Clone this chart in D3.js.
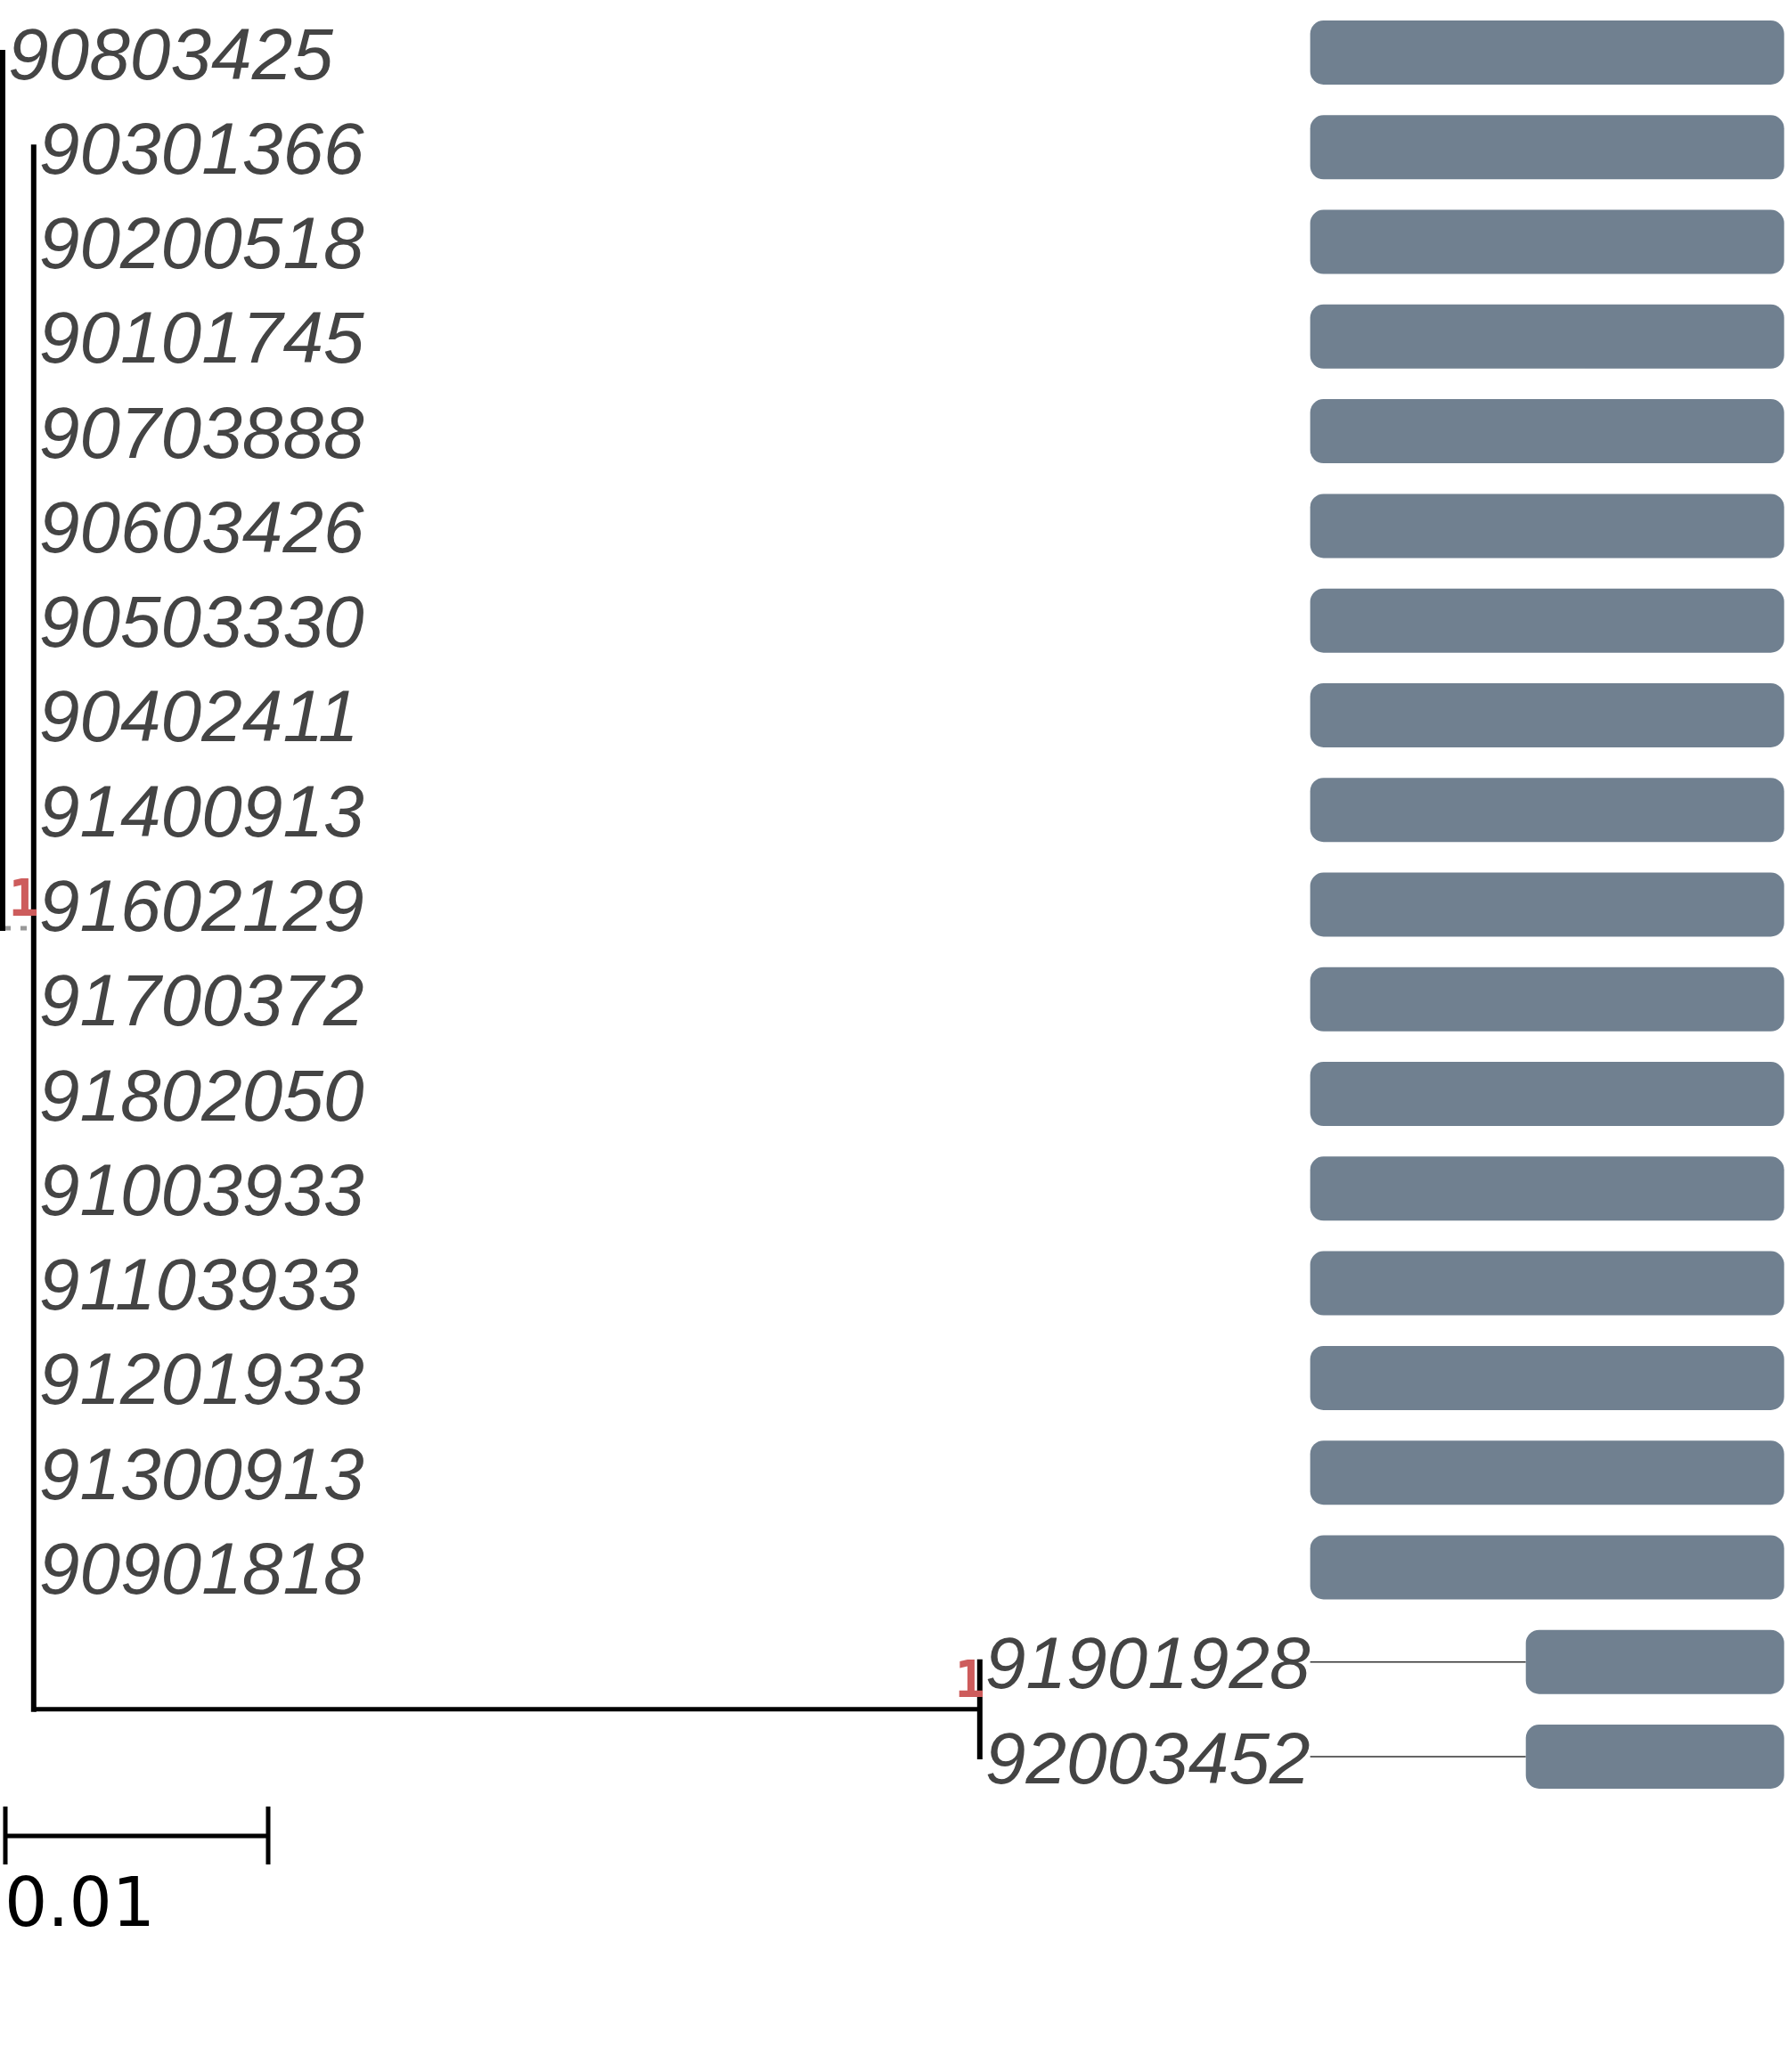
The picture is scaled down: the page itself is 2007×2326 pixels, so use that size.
<!DOCTYPE html>
<html>
<head>
<meta charset="utf-8">
<script src="https://cdn.jsdelivr.net/npm/d3@7"></script>
<style>
  html, body { margin: 0; padding: 0; background: #fff; }
</style>
</head>
<body>
<div id="tree"></div>
<script>
// internal nodes of the tree
var nodeIds = ["root", "inner", "cladeB"];
var nodeParents = [null, "root", "inner"];
var nodeLengths = [0, 0.00118, 0.0360];
var nodeSupport = [null, 1, 1];

// leaves, top to bottom
var leafNames = [
    "90803425", "90301366", "90200518", "90101745", "90703888",
    "90603426", "90503330", "90402411", "91400913", "91602129",
    "91700372", "91802050", "91003933", "91103933", "91201933",
    "91300913", "90901818", "91901928", "92003452"
];
var leafParents = [
    "root", "inner", "inner", "inner", "inner",
    "inner", "inner", "inner", "inner", "inner",
    "inner", "inner", "inner", "inner", "inner",
    "inner", "inner", "cladeB", "cladeB"
];
var leafLengths = [0, 0, 0, 0, 0, 0, 0, 0, 0, 0, 0, 0, 0, 0, 0, 0, 0, 0, 0];

// bar values shown next to the leaves
var barValues = [1, 1, 1, 1, 1, 1, 1, 1, 1, 1, 1, 1, 1, 1, 1, 1, 1, 0.545, 0.545];

// scale bar
var scaleBarLength = 0.01;
var scaleBarLabel = "0.01";

// set parameters
var svgWidth = 2007;
var svgHeight = 2326;
var barWidth = 532;
var barHeight = 72;

var svg = d3.select("#tree")
    .append("svg")
    .attr("width", svgWidth)
    .attr("height", svgHeight)
    .style("display", "block");

svg.append("rect")
    .attr("width", svgWidth)
    .attr("height", svgHeight)
    .attr("fill", "#fff");

// build the hierarchy
var rows = [];
nodeIds.forEach(function(id, i) {
    rows.push({id: id, parentId: nodeParents[i], length: nodeLengths[i], support: nodeSupport[i]});
});
leafNames.forEach(function(name, i) {
    rows.push({id: name, parentId: leafParents[i], length: leafLengths[i], support: null, leafIndex: i});
});

var root = d3.stratify()
    .id(d => d.id)
    .parentId(d => d.parentId)(rows);

// scales
var xScale = d3.scaleLinear()
    .domain([0, scaleBarLength])
    .range([3, 298]);

var yScale = d3.scaleLinear()
    .domain([0, leafNames.length - 1])
    .range([59, 1972]);

root.eachBefore(function(d) {
    d.dist = (d.parent ? d.parent.dist : 0) + d.data.length;
    d.px = xScale(d.dist);
});
root.eachAfter(function(d) {
    if (d.children) {
        var ys = d.children.map(c => c.py);
        d.py = (d3.min(ys) + d3.max(ys)) / 2;
    } else {
        d.py = yScale(d.data.leafIndex);
    }
});

var treeGroup = svg.append("g");

// horizontal branches
var branches = root.descendants().filter(d => d.parent && d.data.length > 0);
treeGroup.selectAll("line.branch")
    .data(branches)
    .enter()
    .append("line")
    .attr("class", "branch")
    .attr("x1", d => d.parent.px + (d.parent.parent ? 0 : 2))
    .attr("x2", d => d.px)
    .attr("y1", d => d.py)
    .attr("y2", d => d.py)
    .attr("stroke", d => d.parent.parent ? "#000" : "#999")
    .attr("stroke-width", 5)
    .attr("stroke-dasharray", d => d.parent.parent ? null : "7,11");

// vertical connectors
var internals = root.descendants().filter(d => d.children);
treeGroup.selectAll("line.vert")
    .data(internals)
    .enter()
    .append("line")
    .attr("class", "vert")
    .attr("x1", d => d.px)
    .attr("x2", d => d.px)
    .attr("y1", d => d3.min(d.children, c => c.py))
    .attr("y2", d => d3.max(d.children, c => c.py))
    .attr("stroke", "#000")
    .attr("stroke-width", 6)
    .attr("stroke-linecap", "square");

// support values
treeGroup.selectAll("text.support")
    .data(internals.filter(d => d.data.support != null))
    .enter()
    .append("text")
    .attr("class", "support")
    .attr("x", d => d.px + 6)
    .attr("y", d => d.py - 14)
    .attr("text-anchor", "end")
    .attr("font-family", "'DejaVu Sans Mono', monospace")
    .attr("font-weight", "bold")
    .attr("font-size", 57)
    .attr("fill", "#cd5c5c")
    .text(d => d.data.support);

// leaf labels
var leaves = root.leaves();
var labels = treeGroup.selectAll("text.leaf")
    .data(leaves)
    .enter()
    .append("text")
    .attr("class", "leaf")
    .attr("x", d => d.px + 6)
    .attr("y", d => d.py)
    .attr("dy", "0.36em")
    .attr("font-family", "'Liberation Sans', Arial, Helvetica, sans-serif")
    .attr("font-style", "italic")
    .attr("font-size", 82)
    .attr("fill", "#444")
    .text(d => d.data.id);

// bars start where the longest label ends
var alignX = 0;
labels.each(function(d) {
    alignX = Math.max(alignX, d.px + 6 + this.getComputedTextLength());
});

var barScale = d3.scaleLinear()
    .domain([0, d3.max(barValues)])
    .range([0, barWidth]);

var barGroup = svg.append("g");

barGroup.selectAll("line.dots")
    .data(leaves.filter(d => barScale(barValues[d.data.leafIndex]) < barWidth))
    .enter()
    .append("line")
    .attr("class", "dots")
    .attr("x1", alignX)
    .attr("x2", d => alignX + barWidth - barScale(barValues[d.data.leafIndex]))
    .attr("y1", d => d.py)
    .attr("y2", d => d.py)
    .attr("stroke", "#333")
    .attr("stroke-width", 1.5);

barGroup.selectAll("rect")
    .data(leaves)
    .enter()
    .append("rect")
    .attr("x", d => alignX + barWidth - barScale(barValues[d.data.leafIndex]))
    .attr("y", d => d.py - barHeight / 2)
    .attr("width", d => barScale(barValues[d.data.leafIndex]))
    .attr("height", barHeight)
    .attr("rx", 15)
    .attr("ry", 15)
    .attr("fill", "#708090");

// scale bar
var scaleGroup = svg.append("g")
    .attr("transform", "translate(6, 2061)");
var scaleLen = xScale(scaleBarLength) - xScale(0);

scaleGroup.append("line")
    .attr("x1", 0)
    .attr("x2", scaleLen)
    .attr("stroke", "#000")
    .attr("stroke-width", 5);

scaleGroup.selectAll("line.tick")
    .data([0, scaleLen])
    .enter()
    .append("line")
    .attr("class", "tick")
    .attr("x1", d => d)
    .attr("x2", d => d)
    .attr("y1", -33)
    .attr("y2", 32)
    .attr("stroke", "#000")
    .attr("stroke-width", 5);

scaleGroup.append("text")
    .attr("x", -1)
    .attr("y", 101)
    .attr("font-family", "'DejaVu Sans', sans-serif")
    .attr("font-size", 76)
    .attr("fill", "#000")
    .text(scaleBarLabel);
</script>
</body>
</html>
